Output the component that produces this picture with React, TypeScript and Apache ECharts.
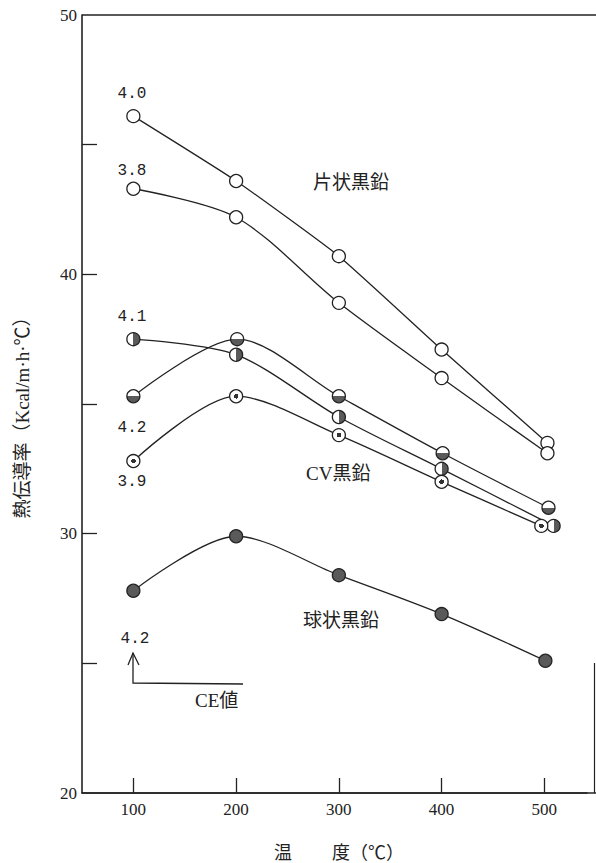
import React, { useEffect, useRef } from "react";
import * as echarts from "echarts";

// ---- data ----
const xTickValues = [100, 200, 300, 400, 500];
const yTickValues = [25, 30, 35, 40, 45];
const yLabelValues = [20, 30, 40, 50];

// 片状黒鉛, CE 4.0
const xFlake40 = [100, 200, 300, 400, 503];
const yFlake40 = [46.1, 43.6, 40.7, 37.1, 33.5];
// 片状黒鉛, CE 3.8
const xFlake38 = [100, 200, 300, 400, 503];
const yFlake38 = [43.3, 42.2, 38.9, 36.0, 33.1];
// CV黒鉛, CE 4.1
const xCv41 = [100, 200, 300, 400, 509];
const yCv41 = [37.5, 36.9, 34.5, 32.5, 30.3];
// CV黒鉛, CE 4.2
const xCv42 = [100, 201, 300, 401, 504];
const yCv42 = [35.3, 37.5, 35.3, 33.1, 31.0];
// CV黒鉛, CE 3.9
const xCv39 = [100, 200, 300, 400, 497];
const yCv39 = [32.8, 35.3, 33.8, 32.0, 30.3];
// 球状黒鉛, CE 4.2
const xSph42 = [100, 200, 300, 400, 501];
const ySph42 = [27.8, 29.9, 28.4, 26.9, 25.1];

const INK = "#222";
const DARK = "#5a5a5a";
const SERIF = "'Liberation Serif', 'DejaVu Serif', serif";
const MONO = "'Liberation Mono', 'DejaVu Sans Mono', monospace";
const CJK = "'Liberation Serif', 'Noto Sans CJK JP', serif";

const pts = (xs: number[], ys: number[]) => xs.map((x, i) => [x, ys[i]]);

const halfRight = {
  type: "linear", x: 0, y: 0, x2: 1, y2: 0,
  colorStops: [
    { offset: 0, color: "#fff" }, { offset: 0.5, color: "#fff" },
    { offset: 0.5, color: DARK }, { offset: 1, color: DARK },
  ],
};
const halfBottom = {
  type: "linear", x: 0, y: 0, x2: 0, y2: 1,
  colorStops: [
    { offset: 0, color: "#fff" }, { offset: 0.5, color: "#fff" },
    { offset: 0.5, color: DARK }, { offset: 1, color: DARK },
  ],
};
const dotCenter = {
  type: "radial", x: 0.5, y: 0.5, r: 0.5,
  colorStops: [
    { offset: 0, color: "#333" }, { offset: 0.36, color: "#333" },
    { offset: 0.36, color: "#fff" }, { offset: 1, color: "#fff" },
  ],
};

function lineSeries(name: string, data: number[][], fill: any, smooth: number) {
  return {
    name,
    type: "line",
    data,
    smooth,
    symbol: "circle",
    symbolSize: 13,
    showSymbol: true,
    lineStyle: { color: INK, width: 1.3 },
    itemStyle: { color: fill, borderColor: INK, borderWidth: 1.3 },
    emphasis: { disabled: true },
    silent: true,
  };
}

function txt(text: string, x: number, y: number, size: number, family: string, align = "center", rotation = 0) {
  return {
    type: "text",
    x,
    y,
    rotation,
    silent: true,
    style: {
      text,
      font: `${size}px ${family}`,
      fill: INK,
      align,
      verticalAlign: "middle",
    },
  };
}

export default function App() {
  const ref = useRef<HTMLDivElement>(null);
  useEffect(() => {
    if (!ref.current) return;
    const chart = echarts.init(ref.current, undefined, { renderer: "svg" });
    const option: any = {
      animation: false,
      backgroundColor: "#fff",
      grid: { left: 82, top: 15, width: 505, height: 778, outerBoundsMode: "none", show: false },
      xAxis: {
        type: "value",
        min: 50,
        max: 541.5,
        interval: 50,
        position: "bottom",
        axisLine: { show: true, onZero: false, lineStyle: { color: INK, width: 1.6 } },
        axisTick: { show: true, inside: true, length: 15, customValues: xTickValues, lineStyle: { color: INK, width: 1.3 } },
        axisLabel: { customValues: xTickValues, color: INK, fontSize: 17, fontFamily: SERIF, margin: 8 },
        splitLine: { show: false },
        minorSplitLine: { show: false },
      },
      yAxis: {
        type: "value",
        min: 20,
        max: 50,
        interval: 5,
        position: "left",
        axisLine: { show: true, onZero: false, lineStyle: { color: INK, width: 1.6 } },
        axisTick: { show: true, inside: true, length: 15, customValues: yTickValues, lineStyle: { color: INK, width: 1.3 } },
        axisLabel: { customValues: yLabelValues, color: INK, fontSize: 17, fontFamily: SERIF, margin: 5 },
        splitLine: { show: false },
        minorSplitLine: { show: false },
      },
      series: [
        lineSeries("4.0", pts(xFlake40, yFlake40), "#fff", 0.15),
        lineSeries("3.8", pts(xFlake38, yFlake38), "#fff", 0.3),
        lineSeries("4.1", pts(xCv41, yCv41), halfRight, 0.3),
        lineSeries("4.2", pts(xCv42, yCv42), halfBottom, 0.3),
        lineSeries("3.9", pts(xCv39, yCv39), dotCenter, 0.3),
        lineSeries("4.2 球状", pts(xSph42, ySph42), DARK, 0.3),
      ],
      graphic: [
        txt("4.0", 132, 94, 16, MONO),
        txt("3.8", 132, 171, 16, MONO),
        txt("4.1", 132, 317, 16, MONO),
        txt("4.2", 132, 428, 16, MONO),
        txt("3.9", 132, 482, 16, MONO),
        txt("4.2", 135, 639, 16, MONO),
        txt("片状黒鉛", 313, 182, 19, CJK, "left"),
        txt("CV黒鉛", 306, 473, 19, CJK, "left"),
        txt("球状黒鉛", 303, 620, 19, CJK, "left"),
        txt("CE値", 195, 700, 19, CJK, "left"),
        txt("温", 283, 853, 18, CJK),
        txt("度（℃）", 332, 853, 18, CJK, "left"),
        txt("熱伝導率（Kcal/m·h·℃）", 22, 413, 19, CJK, "center", Math.PI / 2),
        {
          type: "line",
          silent: true,
          shape: { x1: 82, y1: 15, x2: 596, y2: 15 },
          style: { stroke: INK, lineWidth: 1.4 },
        },
        {
          type: "line",
          silent: true,
          shape: { x1: 82, y1: 793, x2: 596, y2: 793 },
          style: { stroke: INK, lineWidth: 1.6 },
        },
        {
          type: "line",
          silent: true,
          shape: { x1: 594.5, y1: 663, x2: 594.5, y2: 793 },
          style: { stroke: INK, lineWidth: 1.2 },
        },
        {
          type: "polyline",
          silent: true,
          shape: { points: [[133, 653], [133, 683], [243, 684]] },
          style: { stroke: INK, lineWidth: 1.3, fill: "none" },
        },
        {
          type: "polyline",
          silent: true,
          shape: { points: [[128, 665], [133, 653], [139, 665]] },
          style: { stroke: INK, lineWidth: 1.3, fill: "none" },
        },
      ],
    };
    chart.setOption(option);
    return () => chart.dispose();
  }, []);
  return (
    <div
      ref={ref}
      style={{ position: "absolute", left: 0, top: 0, width: 596, height: 863, background: "#fff" }}
    />
  );
}
